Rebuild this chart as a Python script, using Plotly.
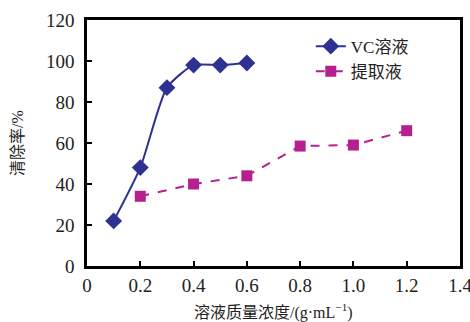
import plotly.graph_objects as go

vc_x = [0.1, 0.2, 0.3, 0.4, 0.5, 0.6]
vc_y = [22, 48, 87, 98, 98, 99]
ex_x = [0.2, 0.4, 0.6, 0.8, 1.0, 1.2]
ex_y = [34, 40, 44, 58.5, 59, 66]
x_ticks = [0, 0.2, 0.4, 0.6, 0.8, 1.0, 1.2, 1.4]
x_labels = ["0", "0.2", "0.4", "0.6", "0.8", "1.0", "1.2", "1.4"]
y_ticks = [0, 20, 40, 60, 80, 100, 120]

FONT = "Liberation Serif, Times New Roman, Noto Sans CJK SC, serif"

fig = go.Figure()
fig.add_trace(go.Scatter(
    x=vc_x, y=vc_y, name="VC溶液", mode="lines+markers",
    line=dict(color="#2E3192", width=2, shape="spline", smoothing=0.6),
    marker=dict(symbol="diamond", size=13, color="#2E3192"),
))
fig.add_trace(go.Scatter(
    x=ex_x, y=ex_y, name="提取液", mode="lines+markers",
    line=dict(color="#B5208F", width=2, dash="dash"),
    marker=dict(symbol="square", size=11, color="#B5208F"),
))

axis_common = dict(
    showline=True, linecolor="black", linewidth=2.5, mirror=True,
    ticks="inside", ticklen=5, tickwidth=2, tickcolor="black",
    showgrid=False, zeroline=False, automargin=False,
    ticklabeloverflow="allow",
    tickfont=dict(family=FONT, size=19, color="#222"),
)

fig.update_layout(
    width=470, height=322,
    margin=dict(l=87, r=10, t=20, b=56),
    paper_bgcolor="white", plot_bgcolor="white",
    font=dict(family=FONT, color="#222"),
    showlegend=True,
    legend=dict(
        x=0.60, y=0.965, xanchor="left", yanchor="top",
        font=dict(family=FONT, size=17, color="#222"),
        bgcolor="rgba(0,0,0,0)", tracegroupgap=0,
    ),
    xaxis=dict(
        range=[0, 1.4], tickvals=x_ticks, ticktext=x_labels,
        **axis_common,
    ),
    yaxis=dict(
        range=[0, 120], tickvals=y_ticks, ticklabelstandoff=6,
        **axis_common,
    ),
    annotations=[
        dict(text="溶液质量浓度/(g·mL<sup>−1</sup>)", xref="paper", yref="paper",
             x=0.5, y=0, xanchor="center", yanchor="middle", yshift=-45,
             showarrow=False, font=dict(family=FONT, size=16, color="#222")),
        dict(text="清除率/%", xref="paper", yref="paper",
             x=0, y=0.5, xanchor="center", yanchor="middle", xshift=-70,
             textangle=-90, showarrow=False,
             font=dict(family=FONT, size=16, color="#222")),
    ],
)

fig.write_html(
    "out.html",
    config={"displayModeBar": False},
    post_script="document.body.style.margin='0';document.body.style.overflow='hidden';",
)
